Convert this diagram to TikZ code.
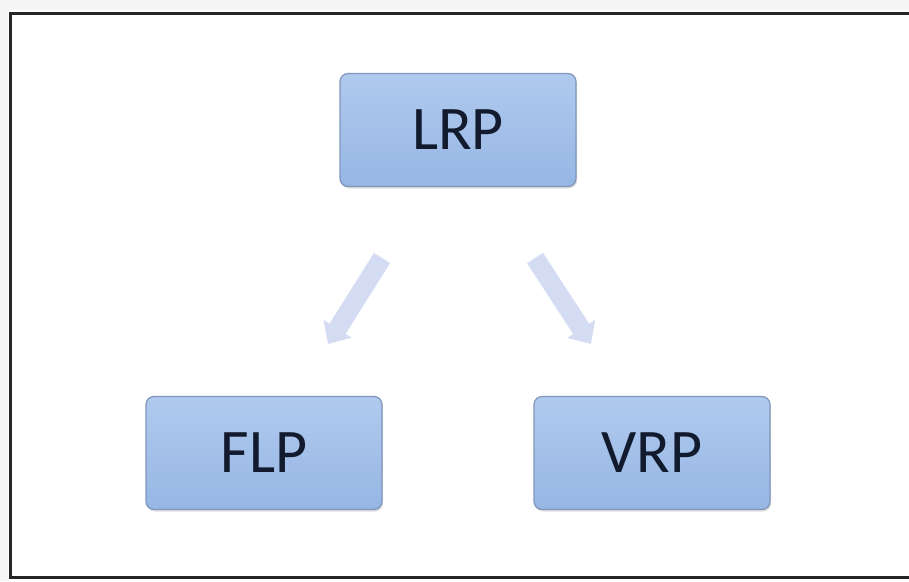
\documentclass[tikz,border=0pt]{standalone}
\usepackage{fontspec}
\setmainfont{Carlito}
\usetikzlibrary{arrows.meta,shadows}
\definecolor{boxtop}{RGB}{176,202,238}
\definecolor{boxbot}{RGB}{150,182,228}
\definecolor{boxline}{RGB}{128,150,186}
\definecolor{txt}{RGB}{18,26,46}
\definecolor{arr}{RGB}{212,220,244}
\tikzset{
  box/.style={draw=boxline, line width=1.2pt, rounded corners=8pt,
    top color=boxtop, bottom color=boxbot, minimum width=236pt, minimum height=113pt,
    text=txt, font=\fontsize{62}{62}\selectfont, inner sep=0pt,
    drop shadow={shadow xshift=1pt, shadow yshift=-2pt, opacity=0.25}},
  blk/.style={draw=arr, line width=19pt, -{Triangle[width=32pt,length=18pt]}}
}
\begin{document}
\begin{tikzpicture}[x=1pt,y=-1pt]
\useasboundingbox (0,0) rectangle (909,581);
\fill[black!4] (0,0) rectangle (909,10);
\fill[black!4] (0,0) rectangle (8,581);
\fill[white] (10,13) rectangle (909,577);
\draw[line width=3pt, black!85] (909,13) -- (10,13) -- (10,577) -- (909,577);
\node[box] (lrp) at (458,130) {LRP};
\node[box] (flp) at (264,453) {FLP};
\node[box] (vrp) at (652,453) {VRP};
\coordinate (a1s) at (382,258);
\coordinate (a1e) at (328,344);
\coordinate (a2s) at (535,258);
\coordinate (a2e) at (591,344);
\draw[blk] (a1s) -- (a1e);
\draw[blk] (a2s) -- (a2e);
\end{tikzpicture}
\end{document}
